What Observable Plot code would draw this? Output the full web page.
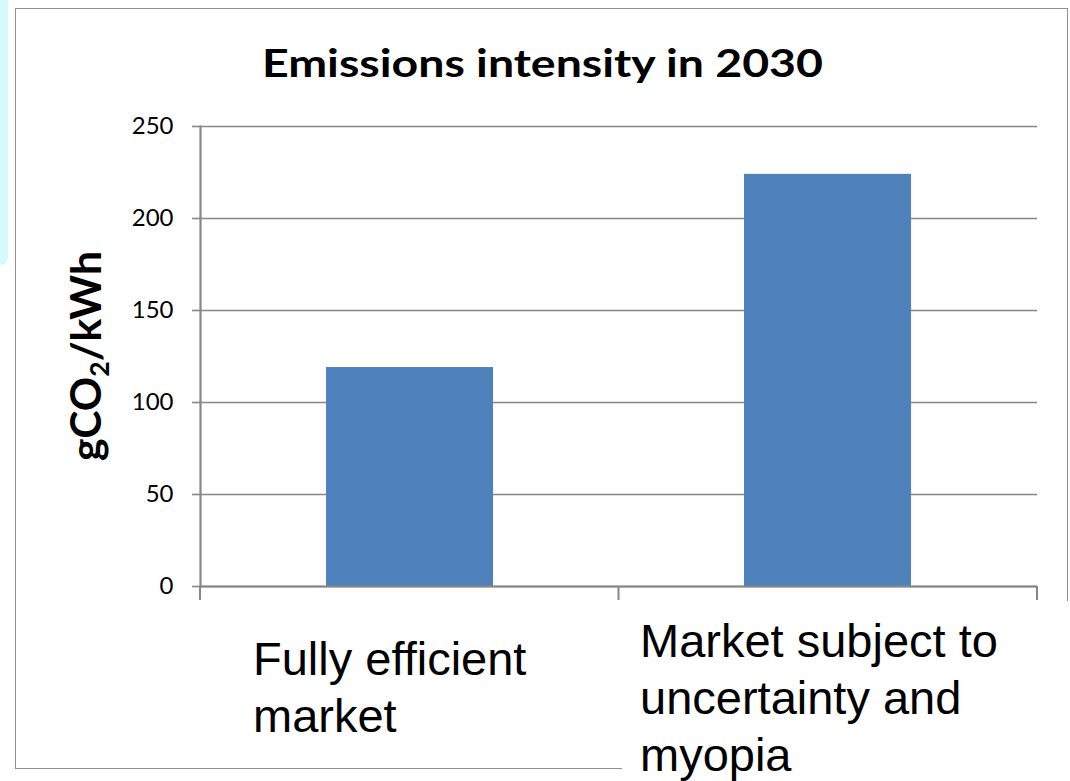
<!DOCTYPE html>
<html>
<head>
<meta charset="utf-8">
<script src="https://cdn.jsdelivr.net/npm/d3@7"></script>
<script src="https://cdn.jsdelivr.net/npm/@observablehq/plot@0.6"></script>
<style>
  body { margin: 0; background: #fff; }
  #wrap { position: relative; width: 1070px; height: 781px; overflow: hidden; background: #fff; }
  #cyan { position: absolute; left: 0; top: 0; width: 8px; height: 265px; background: #d6fafa; border-bottom-right-radius: 12px; }
  #frame { position: absolute; left: 15px; top: 8px; width: 1051px; height: 759px; border: 1.5px solid #8f8f8f; }
  #cover { position: absolute; left: 622px; top: 601px; width: 460px; height: 200px; background: #fff; }
  #chart { position: absolute; left: 0; top: 0; }
  #ttl { position: absolute; left: 0; top: 0; }
</style>
</head>
<body>
<div id="wrap">
  <div id="cyan"></div>
  <div id="frame"></div>
  <div id="cover"></div>
  <div id="chart"></div>
  <svg id="ttl" width="1070" height="110"></svg>
</div>
<script>
// ---- data ----
const title = "Emissions intensity in 2030";
const categories = ["Fully efficient market", "Market subject to uncertainty and myopia"];
const values = [119, 224];
const categoryLabels = [["Fully efficient", "market"], ["Market subject to", "uncertainty and", "myopia"]];
const yTicks = [0, 50, 100, 150, 200, 250];
const yLabelParts = ["gCO", "2", "/kWh"];

const data = categories.map((c, i) => ({cat: c, value: values[i], label: categoryLabels[i].join("\n")}));

const gray = "#868686";

function bandEdgeTicks(index, scales, vals, dims) {
  const x = scales.x;
  const bw = typeof x.bandwidth === "function" ? x.bandwidth() : (x.bandwidth ?? 0);
  const centers = categories.map(c => x(c) + bw / 2);
  const edges = [dims.marginLeft, ...d3.pairs(centers).map(([a, b]) => (a + b) / 2), dims.width - dims.marginRight];
  const y0 = scales.y(0);
  const g = d3.create("svg:g");
  g.selectAll("line").data(edges).join("line")
    .attr("x1", d => d).attr("x2", d => d)
    .attr("y1", y0).attr("y2", y0 + 14)
    .attr("stroke", gray).attr("stroke-width", 2);
  return g.node();
}

function yLabelMark(index, scales, vals, dims) {
  const cy = (dims.marginTop + dims.height - dims.marginBottom) / 2;
  const t = d3.create("svg:text")
    .attr("id", "ylab")
    .attr("data-cx", dims.marginLeft - 99)
    .attr("data-cy", cy)
    .attr("transform", `translate(${dims.marginLeft - 99},${cy}) rotate(-90)`)
    .attr("text-anchor", "middle")
    .attr("font-family", "Lato, 'Open Sans', sans-serif")
    .attr("font-weight", "bold")
    .attr("font-size", 42)
    .attr("fill", "#000");
  t.append("tspan").text(yLabelParts[0]);
  t.append("tspan").attr("font-size", "0.62em").attr("dy", "0.3em").text(yLabelParts[1]);
  t.append("tspan").attr("dy", "-0.19em").text(yLabelParts[2]);
  return t.node();
}

const plot = Plot.plot({
  width: 1070,
  height: 781,
  marginLeft: 200,
  marginRight: 33,
  marginTop: 126,
  marginBottom: 195,
  style: {background: "transparent", overflow: "visible", color: "#000"},
  x: {type: "band", domain: categories, paddingInner: 0.6, paddingOuter: 0.3, axis: null},
  y: {domain: [0, 250], axis: null},
  marks: [
    Plot.gridY(yTicks, {stroke: gray, strokeOpacity: 1, strokeWidth: 1.6}),
    Plot.barY(data, {x: "cat", y: "value", fill: "#4f81bd"}),
    Plot.axisY(yTicks, {tickSize: 8, tickPadding: 19, stroke: gray, strokeWidth: 1.6, fill: "#000",
      fontSize: 24, fontFamily: "Lato, 'Open Sans', sans-serif", label: null}),
    Plot.ruleY([0], {stroke: gray, strokeWidth: 2.2}),
    Plot.frame({anchor: "left", stroke: gray, strokeWidth: 2.2}),
    bandEdgeTicks,
    Plot.text(data.filter((d, i) => i === 0), {x: "cat", text: "label", frameAnchor: "bottom",
      lineAnchor: "top", textAnchor: "start", dx: -157, dy: 48, fontSize: 47, lineHeight: 57 / 47,
      fontFamily: "'Liberation Sans', Arial, sans-serif", fill: "#000"}),
    Plot.text(data.filter((d, i) => i === 1), {x: "cat", text: "label", frameAnchor: "bottom",
      lineAnchor: "top", textAnchor: "start", dx: -188, dy: 30, fontSize: 47, lineHeight: 57 / 47,
      fontFamily: "'Liberation Sans', Arial, sans-serif", fill: "#000"}),
    yLabelMark
  ]
});

document.getElementById("chart").appendChild(plot);

// fit y label length
const yl = document.getElementById("ylab");
if (yl) {
  const bb = yl.getBBox();
  const sx = 210 / bb.width;
  yl.setAttribute("transform", `translate(${yl.getAttribute("data-cx")},${yl.getAttribute("data-cy")}) rotate(-90) scale(${sx},1)`);
}

// title
const ttl = d3.select("#ttl");
ttl.append("text")
  .attr("x", 262).attr("y", 77)
  .attr("font-family", "Lato, 'Open Sans', sans-serif")
  .attr("font-weight", "bold")
  .attr("font-size", 39)
  .attr("textLength", 561)
  .attr("lengthAdjust", "spacingAndGlyphs")
  .attr("fill", "#000")
  .text(title);
</script>
</body>
</html>
